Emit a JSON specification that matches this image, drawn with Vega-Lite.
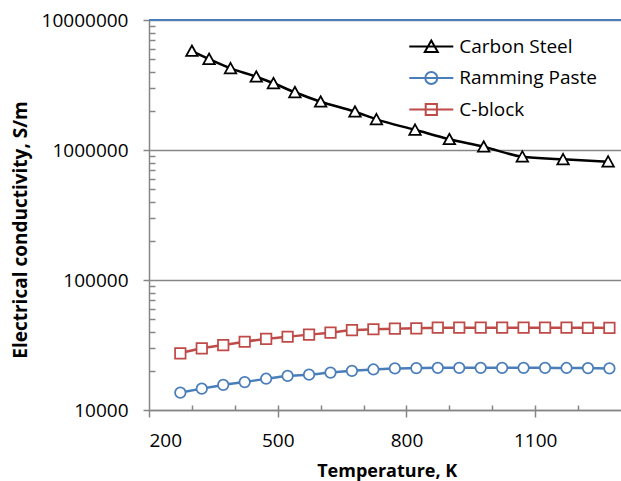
{
  "$schema": "https://vega.github.io/schema/vega-lite/v6.json",
  "width": 472,
  "height": 390,
  "autosize": {"type": "none"},
  "padding": {"left": 149, "top": 20, "right": 0, "bottom": 71},
  "background": "white",
  "config": {
    "view": {"stroke": null},
    "font": "Open Sans",
    "axis": {"labelFont": "Open Sans", "titleFont": "Open Sans", "labelColor": "#000000", "titleColor": "#000000", "domainColor": "#868686", "tickColor": "#868686", "gridColor": "#868686", "domainWidth": 1.5, "tickWidth": 1.5, "gridWidth": 1.5},
    "legend": {"labelFont": "Open Sans"}
  },
  "data": {
    "values": [
      {"series": "Carbon Steel", "T": 300, "sigma": 5775000},
      {"series": "Carbon Steel", "T": 340, "sigma": 5010000},
      {"series": "Carbon Steel", "T": 390, "sigma": 4250000},
      {"series": "Carbon Steel", "T": 450, "sigma": 3660000},
      {"series": "Carbon Steel", "T": 490, "sigma": 3260000},
      {"series": "Carbon Steel", "T": 540, "sigma": 2780000},
      {"series": "Carbon Steel", "T": 600, "sigma": 2350000},
      {"series": "Carbon Steel", "T": 680, "sigma": 1970000},
      {"series": "Carbon Steel", "T": 730, "sigma": 1720000},
      {"series": "Carbon Steel", "T": 820, "sigma": 1430000},
      {"series": "Carbon Steel", "T": 900, "sigma": 1210000},
      {"series": "Carbon Steel", "T": 980, "sigma": 1060000},
      {"series": "Carbon Steel", "T": 1070, "sigma": 888000},
      {"series": "Carbon Steel", "T": 1165, "sigma": 848000},
      {"series": "Carbon Steel", "T": 1270, "sigma": 813000},
      {"series": "Ramming Paste", "T": 273, "sigma": 13600},
      {"series": "Ramming Paste", "T": 323, "sigma": 14600},
      {"series": "Ramming Paste", "T": 373, "sigma": 15600},
      {"series": "Ramming Paste", "T": 423, "sigma": 16400},
      {"series": "Ramming Paste", "T": 473, "sigma": 17400},
      {"series": "Ramming Paste", "T": 523, "sigma": 18300},
      {"series": "Ramming Paste", "T": 573, "sigma": 18700},
      {"series": "Ramming Paste", "T": 623, "sigma": 19400},
      {"series": "Ramming Paste", "T": 673, "sigma": 20000},
      {"series": "Ramming Paste", "T": 723, "sigma": 20500},
      {"series": "Ramming Paste", "T": 773, "sigma": 20900},
      {"series": "Ramming Paste", "T": 823, "sigma": 21000},
      {"series": "Ramming Paste", "T": 873, "sigma": 21100},
      {"series": "Ramming Paste", "T": 923, "sigma": 21100},
      {"series": "Ramming Paste", "T": 973, "sigma": 21100},
      {"series": "Ramming Paste", "T": 1023, "sigma": 21100},
      {"series": "Ramming Paste", "T": 1073, "sigma": 21100},
      {"series": "Ramming Paste", "T": 1123, "sigma": 21100},
      {"series": "Ramming Paste", "T": 1173, "sigma": 21050},
      {"series": "Ramming Paste", "T": 1223, "sigma": 21000},
      {"series": "Ramming Paste", "T": 1273, "sigma": 20900},
      {"series": "C-block", "T": 273, "sigma": 27300},
      {"series": "C-block", "T": 323, "sigma": 29800},
      {"series": "C-block", "T": 373, "sigma": 31600},
      {"series": "C-block", "T": 423, "sigma": 33500},
      {"series": "C-block", "T": 473, "sigma": 35300},
      {"series": "C-block", "T": 523, "sigma": 36600},
      {"series": "C-block", "T": 573, "sigma": 38000},
      {"series": "C-block", "T": 623, "sigma": 39300},
      {"series": "C-block", "T": 673, "sigma": 41200},
      {"series": "C-block", "T": 723, "sigma": 41800},
      {"series": "C-block", "T": 773, "sigma": 42200},
      {"series": "C-block", "T": 823, "sigma": 42500},
      {"series": "C-block", "T": 873, "sigma": 43000},
      {"series": "C-block", "T": 923, "sigma": 43000},
      {"series": "C-block", "T": 973, "sigma": 43000},
      {"series": "C-block", "T": 1023, "sigma": 43000},
      {"series": "C-block", "T": 1073, "sigma": 43000},
      {"series": "C-block", "T": 1123, "sigma": 43000},
      {"series": "C-block", "T": 1173, "sigma": 43000},
      {"series": "C-block", "T": 1223, "sigma": 42900},
      {"series": "C-block", "T": 1273, "sigma": 42800}
    ]
  },
  "layer": [
    {
      "mark": {"type": "line", "interpolate": "monotone", "strokeWidth": 2.5},
      "encoding": {
        "x": {
          "field": "T", "type": "quantitative",
          "scale": {"domain": [200, 1300], "nice": false, "zero": false},
          "axis": {
            "orient": "bottom", "values": [200, 500, 800, 1100], "format": "d", "tickSize": 7,
            "labelFontSize": 19, "labelBaseline": "alphabetic", "labelPadding": 29,
            "grid": false,
            "title": "Temperature, K", "titleFontSize": 18, "titleFontWeight": "bold",
            "titleX": 237.7, "titleY": 66, "titleBaseline": "alphabetic", "titleAlign": "center"
          }
        },
        "y": {
          "field": "sigma", "type": "quantitative",
          "scale": {"type": "log", "domain": [10000, 10000000], "nice": false},
          "axis": {
            "orient": "left", "values": [10000, 100000, 1000000, 10000000], "format": "d",
            "tickSize": 6, "labelPadding": 15, "labelFontSize": 19, "labelBaseline": "middle",
            "grid": true,
            "title": "Electrical conductivity, S/m", "titleFontSize": 19, "titleFontWeight": "bold",
            "titleAngle": -90, "titleX": -123, "titleY": 209.5, "titleBaseline": "alphabetic", "titleAlign": "center"
          }
        },
        "color": {
          "field": "series", "type": "nominal",
          "scale": {"domain": ["Carbon Steel", "Ramming Paste", "C-block"], "range": ["#000000", "#4a7ebb", "#be4b48"]}
        },
        "detail": {"field": "series"}
      }
    },
    {
      "mark": {
        "type": "point", "filled": false, "fill": "white", "strokeWidth": 1.75, "size": 110, "opacity": 1,
        "shape": {"expr": "datum.series === 'Carbon Steel' ? 'M0,-1.05L1.1,0.95L-1.1,0.95Z' : datum.series === 'Ramming Paste' ? 'circle' : datum.series === 'C-block' ? 'M-1,-1H1V1H-1Z' : datum.value === 'Carbon Steel' ? 'M-2.2,0H2.2M0,-0.6L0.65,0.55L-0.65,0.55Z' : datum.value === 'Ramming Paste' ? 'M-2.2,0H2.2M0.6,0A0.6,0.6,0,1,1,-0.6,0A0.6,0.6,0,1,1,0.6,0' : 'M-2.2,0H2.2M-0.56,-0.56H0.56V0.56H-0.56Z'"}
      },
      "encoding": {
        "x": {
          "field": "T", "type": "quantitative",
          "axis": {"orient": "bottom", "values": [300, 400, 500, 600, 700, 800, 900, 1000, 1100, 1200], "tickSize": -5, "labels": false, "domain": false, "grid": false, "title": null}
        },
        "y": {
          "field": "sigma", "type": "quantitative",
          "axis": {"orient": "left", "values": [20000, 30000, 40000, 50000, 60000, 70000, 80000, 90000, 200000, 300000, 400000, 500000, 600000, 700000, 800000, 900000, 2000000, 3000000, 4000000, 5000000, 6000000, 7000000, 8000000, 9000000], "tickSize": -6, "labels": false, "domain": false, "grid": false, "title": null}
        },
        "color": {
          "field": "series", "type": "nominal",
          "legend": {
            "orient": "none", "legendX": 271.3, "legendY": 15.5, "title": null, "padding": 0,
            "labelFontSize": 19, "labelColor": "#000000", "labelOffset": 17, "symbolSize": 400,
            "symbolStrokeWidth": 2, "rowPadding": 10.5, "labelBaseline": "middle",
            "symbolFillColor": "transparent",
            "symbolType": {"expr": "datum.value === 'Carbon Steel' ? 'M-2.2,0H2.2M0,-0.6L0.65,0.55L-0.65,0.55Z' : datum.value === 'Ramming Paste' ? 'M-2.2,0H2.2M0.6,0A0.6,0.6,0,1,1,-0.6,0A0.6,0.6,0,1,1,0.6,0' : 'M-2.2,0H2.2M-0.56,-0.56H0.56V0.56H-0.56Z'"}
          }
        }
      }
    },
    {
      "mark": {"type": "rule", "color": "#4a7ebb", "strokeWidth": 2},
      "encoding": {
        "y": {"datum": 10000000, "type": "quantitative", "axis": null}
      }
    }
  ],
  "resolve": {"axis": {"x": "independent", "y": "independent"}}
}
